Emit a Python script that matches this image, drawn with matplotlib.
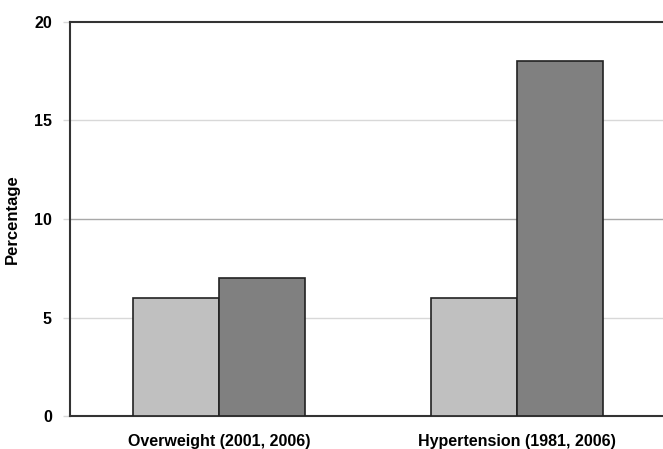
import matplotlib
matplotlib.use('Agg')
import matplotlib.pyplot as plt
import numpy as np

# data
categories = ['Overweight (2001, 2006)', 'Hypertension (1981, 2006)']
first_year = [6, 6]
second_year = [7, 18]
y_ticks = [0, 5, 10, 15, 20]

plt.rcParams['font.family'] = ['Liberation Sans', 'DejaVu Sans']

fig = plt.figure(figsize=(6.63, 4.49), dpi=100)
ax = fig.add_axes([70 / 663, 1 - 416 / 449, 596 / 663, 394 / 449])

x = np.arange(len(categories))
w = 0.288
ax.bar(x - w / 2, first_year, w, color='#c0c0c0', edgecolor='#222222', linewidth=1.2, zorder=3)
ax.bar(x + w / 2, second_year, w, color='#808080', edgecolor='#222222', linewidth=1.2, zorder=3)

ax.set_xlim(-0.5, 1.5)
ax.set_ylim(0, 20)
ax.set_yticks(y_ticks)
for t in y_ticks[1:-1]:
    ax.axhline(t, color='#a8a8a8' if t == 10 else '#d8d8d8', linewidth=1, zorder=1)

ax.set_xticks(x)
ax.set_xticklabels(categories, fontsize=11.5, fontweight='bold')
ax.tick_params(axis='x', length=0, pad=13)
ax.tick_params(axis='y', length=5, width=1, color='#d8d8d8', labelsize=11.5, pad=8)
for lab in ax.get_yticklabels():
    lab.set_fontweight('bold')
ax.set_ylabel('Percentage', fontsize=12, fontweight='bold', labelpad=10)

for side in ['left', 'top', 'bottom']:
    ax.spines[side].set_linewidth(1.5)
    ax.spines[side].set_color('#333333')
ax.spines['right'].set_visible(False)

fig.savefig('out.png', dpi=100)
